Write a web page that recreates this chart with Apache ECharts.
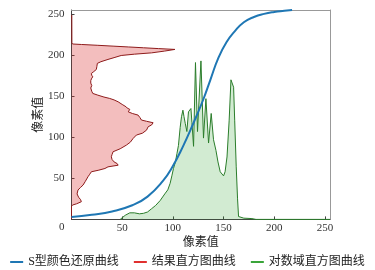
<!DOCTYPE html>
<html><head><meta charset="utf-8">
<script src="https://cdn.jsdelivr.net/npm/echarts@6/dist/echarts.min.js"></script>
<style>html,body{margin:0;padding:0;background:#fff}#c{width:375px;height:270px}</style>
</head><body><div id="c"></div>
<script>
const seriesNames = ['S型颜色还原曲线', '结果直方图曲线', '对数域直方图曲线'];
const axisName = '像素值';

// S-shaped colour restoration curve (x = input pixel, y = output pixel)
const sCurveX = [0, 20, 40, 60, 75, 90, 100, 110, 120, 130, 137, 145, 153, 161, 170, 180, 190, 200, 210, 217.6];
const sCurveY = [3, 5.7, 9.7, 17.2, 27.7, 46.5, 65, 89, 116.5, 146, 170, 197, 216, 229, 240, 246.5, 250.3, 252.6, 254, 255];

// Result histogram (drawn sideways: pixel value on y, scaled count on x)
const resultPixel = [0, 16, 17.5, 19, 21.5, 24, 27, 31, 35.8, 39, 41.8, 46, 52, 55, 58, 60, 62, 64, 66, 68, 70, 73, 76.3, 79, 82.4, 86, 90.5, 94, 98.6, 102.7, 105, 108.7, 112.8, 115, 117.7, 119.5, 121, 124, 127, 129, 131, 134, 135.5, 137, 140, 143.2, 145.5, 147.3, 149, 151.3, 153.4, 156, 160, 163, 166, 169, 172, 173.6, 175.5, 177.7, 180, 182.6, 186, 190, 192, 194.8, 197, 199.6, 201.2, 202.8, 205, 207, 208, 209, 210, 211, 212, 213, 213.6, 215, 249];
const resultCount = [0, 0, 1, 5, 9.7, 9, 7, 5.5, 6.4, 9, 11.4, 13.5, 16.3, 18, 19.6, 27, 33, 36, 46, 45, 42, 40, 39.3, 40, 41, 48, 54.2, 58, 60.8, 64, 70, 74, 75.6, 79, 80.5, 74, 69, 67.5, 65.7, 60, 56, 57.5, 55, 54, 50, 46, 42, 37.7, 32, 26, 21, 20, 19, 20, 19, 19, 20, 21, 20, 19.6, 22, 24.5, 25, 25.5, 29, 36, 42, 49, 62, 79, 92, 102, 86, 71, 56, 41, 26, 10, 1, 0.4, 0.3];

// Log-domain histogram (x = pixel value, y = scaled count)
const logX = [48, 50, 53, 57.5, 62, 67, 71, 75, 79, 83, 87.5, 92, 95, 97.3, 99, 100.6, 102.5, 104, 105.5, 107.2, 108.5, 109.9, 111, 112.2, 113.8, 115.4, 117.8, 118.8, 120.4, 122.3, 124.3, 127.7, 130.2, 132.6, 135.2, 137.8, 140.1, 142.5, 144.5, 146.7, 150, 151.5, 153.4, 155.5, 157.3, 159.9, 161, 162.5, 163.8, 164.8, 166.5, 170, 178, 182, 255];
const logY = [0, 2, 5, 8, 8, 6.8, 7.4, 9, 13, 17, 23, 31, 36, 44, 53, 62, 70, 80, 90, 112, 125, 133, 125, 117, 107, 131, 135, 118, 89, 191, 107, 193, 99, 147, 93, 129, 97, 84, 70, 58, 53, 58, 76, 120, 170, 161, 120, 64, 25, 3.5, 2, 1.5, 1, 0, 0];

const FONT = "'Liberation Serif','Noto Sans CJK SC',serif";
const chart = echarts.init(document.getElementById('c'), null, {renderer: 'canvas'});

const mainAxisCommon = {
  type: 'value', min: 0, max: 255, interval: 50,
  splitLine: {show: false},
  axisLine: {show: true, onZero: false, lineStyle: {color: '#444', width: 1}},
  axisTick: {show: true, inside: true, length: 3, lineStyle: {color: '#444'}},
  nameLocation: 'middle', nameMoveOverlap: false,
  nameTextStyle: {fontSize: 12, color: '#222', fontFamily: FONT}
};
const borderAxis = {
  type: 'value', min: 0, max: 255, interval: 50,
  splitLine: {show: false},
  axisLine: {show: true, onZero: false, lineStyle: {color: '#999', width: 1}},
  axisTick: {show: false}, axisLabel: {show: false}
};

chart.setOption({
  animation: false,
  grid: {left: 71.5, right: 45, top: 10, bottom: 50.6},
  xAxis: [
    Object.assign({}, mainAxisCommon, {
      position: 'bottom', name: axisName, nameGap: 17,
      axisLabel: {margin: 3, fontSize: 11, color: '#333', fontFamily: FONT, showMaxLabel: false,
        formatter: v => (v === 0 || v % 50 !== 0) ? '' : String(v)}
    }),
    Object.assign({}, borderAxis, {position: 'top'})
  ],
  yAxis: [
    Object.assign({}, mainAxisCommon, {
      position: 'left', name: axisName, nameGap: 27,
      axisLabel: {margin: 7, fontSize: 11, color: '#333', fontFamily: FONT, showMaxLabel: false,
        formatter: v => v === 0 ? '{z|0}' : (v % 50 !== 0 ? '' : String(v)),
        rich: {z: {padding: [15, 0, 0, 0], fontSize: 11, color: '#333', fontFamily: FONT}}}
    }),
    Object.assign({}, borderAxis, {position: 'right'})
  ],
  legend: {
    top: 251, left: 'center', icon: 'rect', itemWidth: 13, itemHeight: 2, itemGap: 15,
    textStyle: {fontSize: 12, color: '#222', fontFamily: FONT},
    data: [
      {name: seriesNames[0], itemStyle: {color: '#1f77b4'}},
      {name: seriesNames[1], itemStyle: {color: '#e0302f'}},
      {name: seriesNames[2], itemStyle: {color: '#3aa53a'}}
    ]
  },
  series: [
    {
      type: 'custom', name: seriesNames[1], xAxisIndex: 0, yAxisIndex: 0,
      data: [[0, 0]], clip: true, z: 2, itemStyle: {color: '#d62728'},
      renderItem: (params, api) => {
        const line = resultPixel.map((p, i) => api.coord([resultCount[i], p]));
        const poly = [api.coord([0, resultPixel[0]])].concat(line, [api.coord([0, resultPixel[resultPixel.length - 1]])]);
        return {type: 'group', children: [
          {type: 'polygon', shape: {points: poly}, style: {fill: 'rgba(214,39,40,0.3)'}},
          {type: 'polyline', shape: {points: line}, style: {stroke: '#8e1b1b', lineWidth: 1, fill: null}}
        ]};
      }
    },
    {
      type: 'line', name: seriesNames[2], xAxisIndex: 0, yAxisIndex: 0,
      data: logX.map((x, i) => [x, logY[i]]), symbol: 'none', z: 3,
      lineStyle: {color: '#2b7d2b', width: 1},
      itemStyle: {color: '#2ca02c'},
      areaStyle: {color: 'rgba(44,160,44,0.3)'}
    },
    {
      type: 'line', name: seriesNames[0], xAxisIndex: 0, yAxisIndex: 0,
      data: sCurveX.map((x, i) => [x, sCurveY[i]]), symbol: 'none', z: 5,
      smooth: 0.5,
      lineStyle: {color: '#1f77b4', width: 2},
      itemStyle: {color: '#1f77b4'}
    }
  ]
});
</script></body></html>
